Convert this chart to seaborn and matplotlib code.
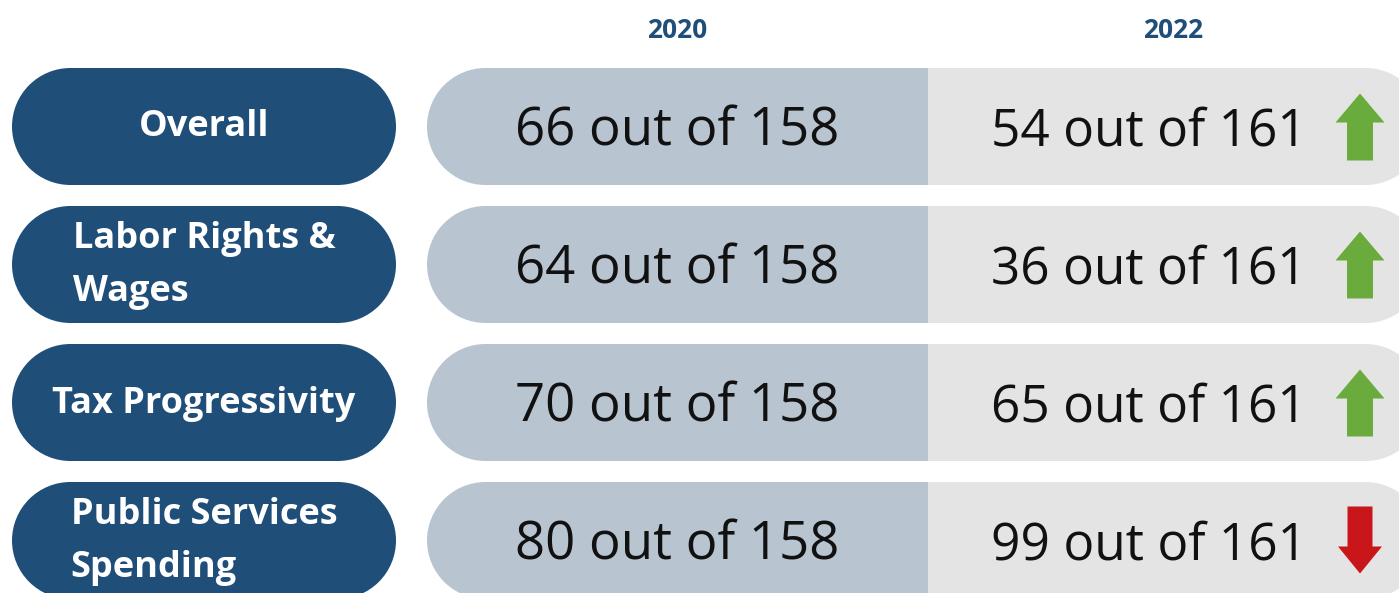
import numpy as np
import matplotlib
matplotlib.use("Agg")
import matplotlib.pyplot as plt
from matplotlib.patches import Rectangle, Circle
import seaborn as sns

sns.set_theme(style="white")
plt.rcParams["font.family"] = ["Open Sans", "DejaVu Sans"]

# ---------------------------
# Data
# ---------------------------
categories = ["Overall", "Labor Rights &\nWages", "Tax Progressivity", "Public Services\nSpending"]
years = ["2020", "2022"]
rank_2020 = [66, 64, 70, 80]
rank_2022 = [54, 36, 65, 99]
total_2020 = 158
total_2022 = 161

# ---------------------------
# Colours / layout
# ---------------------------
NAVY = "#1f4e79"
BLUEGREY = "#b8c5d1"
LIGHTGREY = "#e4e4e4"
GREEN = "#6aab3d"
RED = "#c8161b"

W, H = 1399, 593
row_top = [68, 206, 344, 482]
row_h = 117
label_x0, label_x1 = 12, 396
pill_x0, pill_mid, pill_x1 = 427, 928, 1424


def pill(ax, x0, x1, y0, h, color, left=True, right=True):
    r = h / 2
    ax.add_patch(Rectangle((x0 + (r if left else 0), y0),
                           (x1 - x0) - (r if left else 0) - (r if right else 0), h,
                           facecolor=color, edgecolor="none"))
    if left:
        ax.add_patch(Circle((x0 + r, y0 + r), r, facecolor=color, edgecolor="none"))
    if right:
        ax.add_patch(Circle((x1 - r, y0 + r), r, facecolor=color, edgecolor="none"))


fig = plt.figure(figsize=(W / 100, H / 100), dpi=100)
ax = fig.add_axes([0, 0, 1, 1])
ax.set_xlim(0, W)
ax.set_ylim(H, 0)
ax.set_aspect("equal")
ax.axis("off")

# year headers
ax.text((pill_x0 + pill_mid) / 2, 31, years[0], ha="center", va="center",
        fontsize=19, fontweight="bold", color=NAVY)
ax.text(1173, 31, years[1], ha="center", va="center",
        fontsize=19, fontweight="bold", color=NAVY)

for i, cat in enumerate(categories):
    y0 = row_top[i]
    yc = y0 + row_h / 2

    # category label pill
    pill(ax, label_x0, label_x1, y0, row_h, NAVY)
    ax.text((label_x0 + label_x1) / 2, yc + 1, cat, ha="center", va="center",
            multialignment="left", linespacing=1.66,
            fontsize=26, fontweight="bold", color="white")

    # rank pill: blue-grey left part, light grey right part
    pill(ax, pill_x0, pill_mid, y0, row_h, BLUEGREY, right=False)
    pill(ax, pill_mid, pill_x1, y0, row_h, LIGHTGREY, left=False)

    ax.text((pill_x0 + pill_mid) / 2, yc + 5, f"{rank_2020[i]} out of {total_2020}",
            ha="center", va="center", fontsize=38, color="#111111")
    ax.text(1307, yc + 5, f"{rank_2022[i]} out of {total_2022}",
            ha="right", va="center", fontsize=37, color="#111111")

    # arrow: lower rank number = improvement
    if rank_2022[i] < rank_2020[i]:
        ax.arrow(1360, yc + 34, 0, -67, width=26, head_width=49, head_length=29,
                 length_includes_head=True, color=GREEN, linewidth=0)
    else:
        ax.arrow(1360, yc - 34, 0, 67, width=25, head_width=44, head_length=27,
                 length_includes_head=True, color=RED, linewidth=0)

fig.savefig("out.png", dpi=100, facecolor="white")
plt.close(fig)
